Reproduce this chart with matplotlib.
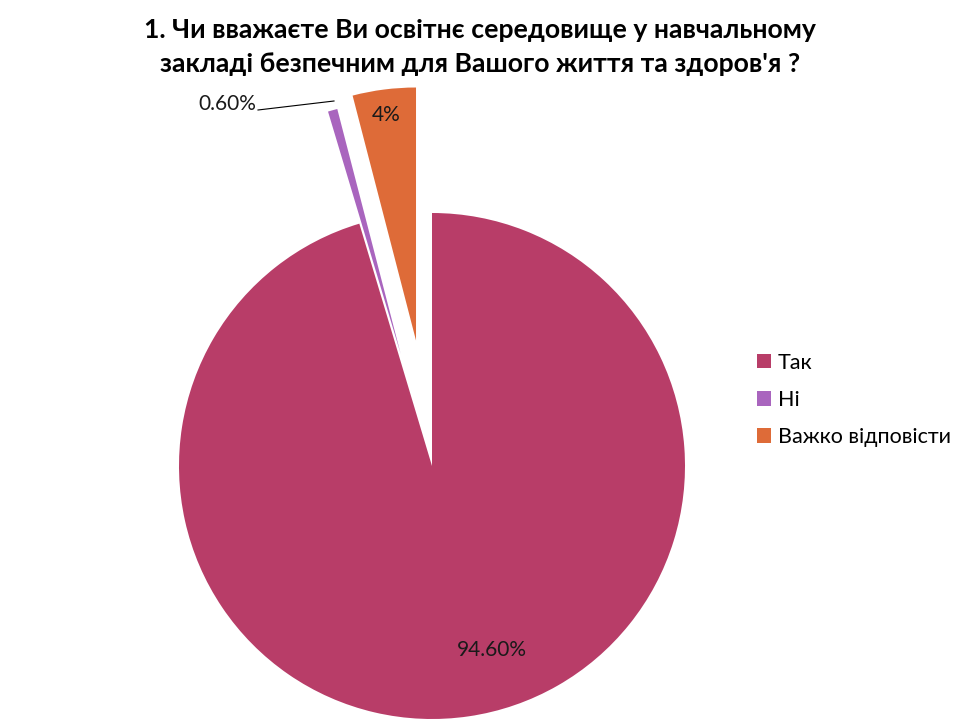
import matplotlib
matplotlib.use("Agg")
import matplotlib.pyplot as plt
import numpy as np

categories = ["Так", "Ні", "Важко відповісти"]
values = [94.6, 0.6, 4.0]
value_labels = ["94.60%", "0.60%", "4%"]
colors = ["#B83D68", "#A965BE", "#DE6B38"]
explode_frac = [0.0, 0.46, 0.5]
title = "1. Чи вважаєте Ви освітнє середовище у навчальному\nзакладі безпечним для Вашого життя та здоров'я ?"

plt.rcParams['font.family'] = ['Lato', 'DejaVu Sans']

fig = plt.figure(figsize=(9.6, 7.2), dpi=100)
ax = fig.add_axes([0, 0, 1, 1])

R = 253
cx, cy = 432, 720 - 466
wedges, _ = ax.pie(values, colors=colors, startangle=90, counterclock=False,
                   explode=[f * R for f in explode_frac], radius=R, center=(cx, cy), frame=True,
                   wedgeprops=dict(linewidth=0))
ax.set_xlim(0, 960)
ax.set_ylim(0, 720)
ax.set_aspect('equal')
ax.axis('off')

# data labels
ax.text(492, 720 - 650, value_labels[0], ha='center', va='center', fontsize=15, color='#1a1a1a')
ax.text(386, 720 - 115, value_labels[2], ha='center', va='center', fontsize=15, color='#1a1a1a')
ax.text(256, 720 - 104, value_labels[1], ha='right', va='center', fontsize=15, color='#1a1a1a')
ax.plot([258, 334], [720 - 110, 720 - 101], color='black', linewidth=0.8)

fig.text(0.5, 1 - 47 / 720, title, ha='center', va='center', fontsize=19.2,
         fontweight='bold', linespacing=1.45, color='black')

leg = ax.legend(wedges, categories, loc='center left', bbox_to_anchor=(738 / 960, 320 / 720),
                bbox_transform=fig.transFigure, frameon=False, fontsize=15.5,
                handlelength=0.65, handleheight=0.65, handletextpad=0.3, labelspacing=0.8)

fig.savefig("out.png", dpi=100)
